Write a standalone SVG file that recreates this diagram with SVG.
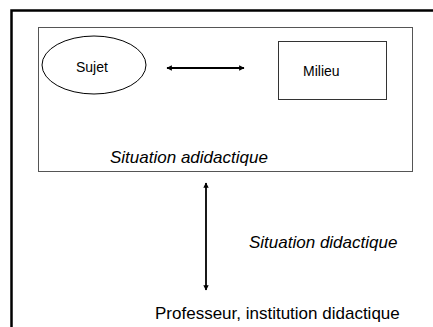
<svg xmlns="http://www.w3.org/2000/svg" width="433" height="327" viewBox="0 0 433 327">
<style>
text{font-family:"Liberation Sans",Arial,sans-serif;fill:#000}
.small{font-size:14px}
.big{font-size:17px}
.it{font-style:italic}
.conn{stroke:#000;stroke-width:1.8;fill:none}
</style>
<defs>
<marker id="ah" viewBox="0 0 10 10" refX="9" refY="5" markerWidth="3" markerHeight="3" orient="auto-start-reverse">
<path d="M0,0 L10,5 L0,10 z" fill="#000"/>
</marker>
</defs>
<rect width="433" height="327" fill="#fff"/>
<g id="frame">
<path d="M11.5,327 L11.5,10.5 L433,10.5" fill="none" stroke="#000" stroke-width="2.5"/>
</g>
<g id="situation-adidactique">
<rect x="38.5" y="27.5" width="374" height="144" fill="none" stroke="#555" stroke-width="1"/>
<text class="big it" x="110" y="163">Situation adidactique</text>
</g>
<g id="sujet">
<ellipse cx="94" cy="65" rx="52" ry="29" fill="none" stroke="#000" stroke-width="1"/>
<text class="small" x="76" y="72">Sujet</text>
</g>
<g id="milieu">
<rect x="278.5" y="41.5" width="108" height="58" fill="none" stroke="#333" stroke-width="1"/>
<text class="small" x="303" y="76">Milieu</text>
</g>
<g id="professeur">
<text class="big" x="155" y="319">Professeur, institution didactique</text>
</g>
<g id="connectors">
<line class="conn" x1="167" y1="68" x2="244" y2="68" marker-start="url(#ah)" marker-end="url(#ah)"/>
<line class="conn" x1="206" y1="183" x2="206" y2="290" stroke-width="1.5" marker-start="url(#ah)" marker-end="url(#ah)"/>
<text class="big it" x="249" y="248">Situation didactique</text>
</g>
</svg>
